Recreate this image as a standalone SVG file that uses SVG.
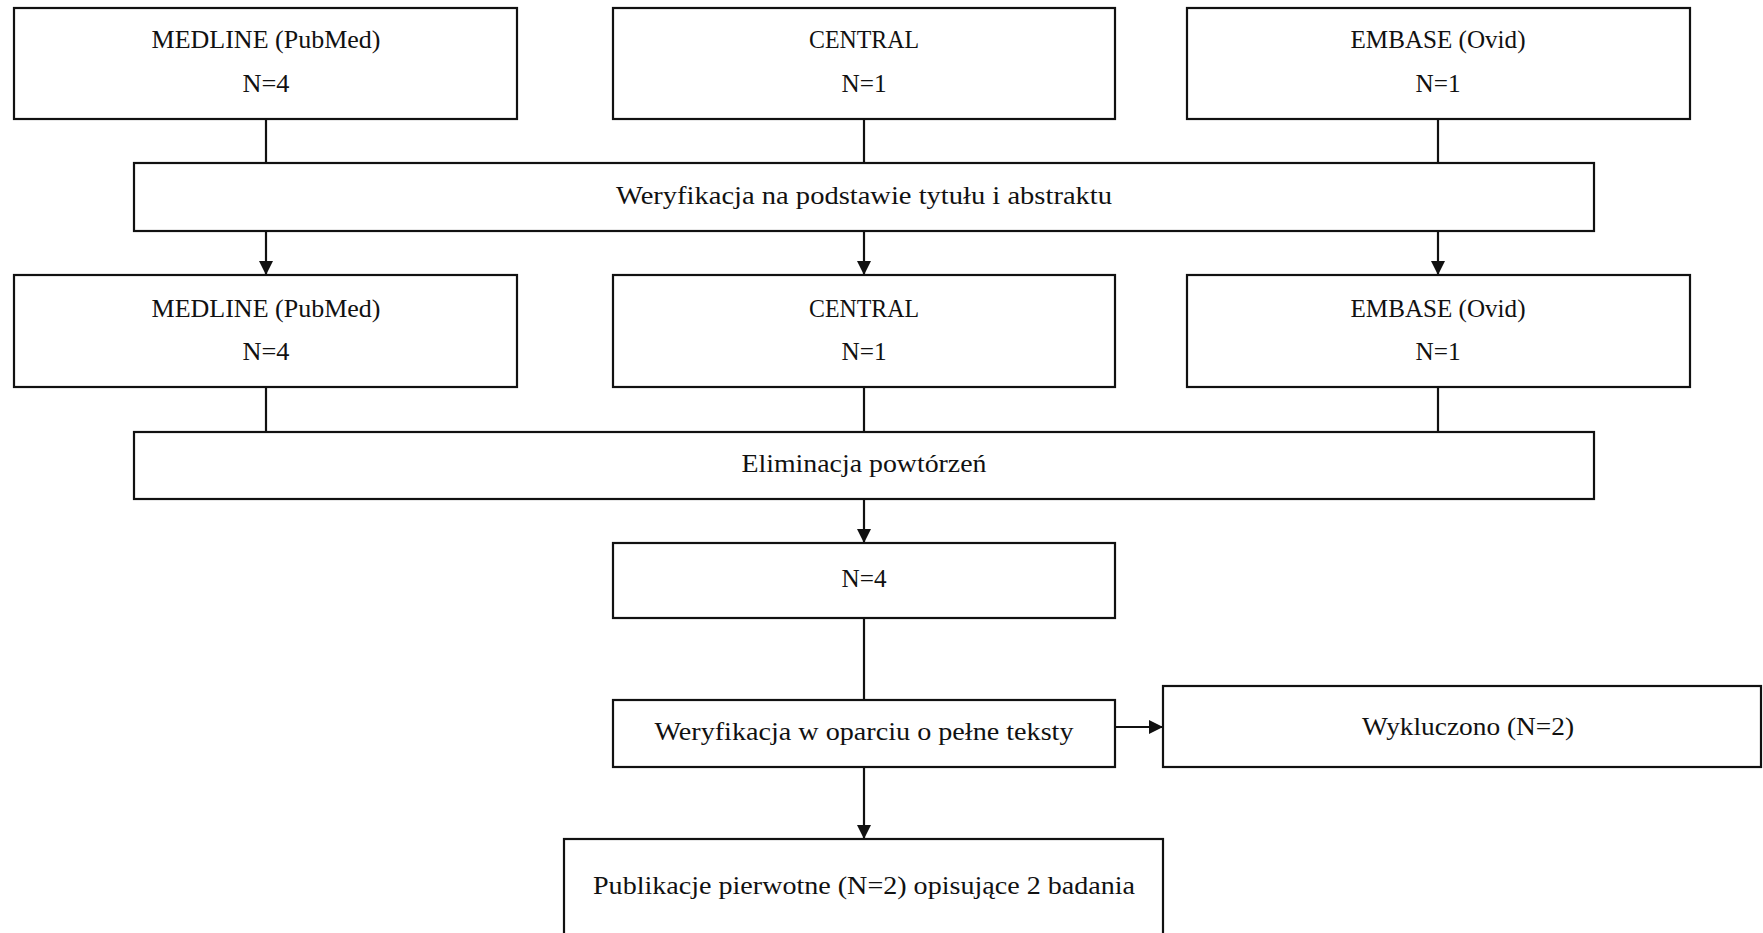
<svg xmlns="http://www.w3.org/2000/svg" width="1763" height="933" viewBox="0 0 1763 933">
<style>
.box{fill:#fff;stroke:#111;stroke-width:2.2}
.t{font-family:"Liberation Serif","Times New Roman",serif;font-size:25px;fill:#111;text-anchor:middle}
.c{stroke:#111;stroke-width:2.2;fill:none}
</style>
<defs>
<marker id="ah" markerUnits="userSpaceOnUse" markerWidth="16" markerHeight="16" viewBox="0 0 16 16" refX="15" refY="8" orient="auto">
<path d="M1,1 L15,8 L1,15 Z" fill="#111"/>
</marker>
</defs>
<rect width="1763" height="933" fill="#fff"/>
<g id="connectors">
<line class="c" x1="266" y1="119" x2="266" y2="163"/>
<line class="c" x1="864" y1="119" x2="864" y2="163"/>
<line class="c" x1="1438" y1="119" x2="1438" y2="163"/>
<line class="c" x1="266" y1="231" x2="266" y2="275" marker-end="url(#ah)"/>
<line class="c" x1="864" y1="231" x2="864" y2="275" marker-end="url(#ah)"/>
<line class="c" x1="1438" y1="231" x2="1438" y2="275" marker-end="url(#ah)"/>
<line class="c" x1="266" y1="387" x2="266" y2="432"/>
<line class="c" x1="864" y1="387" x2="864" y2="432"/>
<line class="c" x1="1438" y1="387" x2="1438" y2="432"/>
<line class="c" x1="864" y1="499" x2="864" y2="543" marker-end="url(#ah)"/>
<line class="c" x1="864" y1="618" x2="864" y2="700"/>
<line class="c" x1="864" y1="767" x2="864" y2="839" marker-end="url(#ah)"/>
<line class="c" x1="1115" y1="727" x2="1163" y2="727" marker-end="url(#ah)"/>
</g>
<g id="medline1"><rect class="box" x="14" y="8" width="503" height="111"/>
<text class="t" x="266" y="48" textLength="229" lengthAdjust="spacingAndGlyphs">MEDLINE (PubMed)</text>
<text class="t" x="266" y="92" textLength="47" lengthAdjust="spacingAndGlyphs">N=4</text></g>
<g id="central1"><rect class="box" x="613" y="8" width="502" height="111"/>
<text class="t" x="864" y="48" textLength="110" lengthAdjust="spacingAndGlyphs">CENTRAL</text>
<text class="t" x="864" y="92" textLength="45" lengthAdjust="spacingAndGlyphs">N=1</text></g>
<g id="embase1"><rect class="box" x="1187" y="8" width="503" height="111"/>
<text class="t" x="1438" y="48" textLength="175" lengthAdjust="spacingAndGlyphs">EMBASE (Ovid)</text>
<text class="t" x="1438" y="92" textLength="45" lengthAdjust="spacingAndGlyphs">N=1</text></g>
<g id="screen1"><rect class="box" x="134" y="163" width="1460" height="68"/>
<text class="t" x="864" y="204" textLength="496" lengthAdjust="spacingAndGlyphs">Weryfikacja na podstawie tytułu i abstraktu</text></g>
<g id="medline2"><rect class="box" x="14" y="275" width="503" height="112"/>
<text class="t" x="266" y="317" textLength="229" lengthAdjust="spacingAndGlyphs">MEDLINE (PubMed)</text>
<text class="t" x="266" y="360" textLength="47" lengthAdjust="spacingAndGlyphs">N=4</text></g>
<g id="central2"><rect class="box" x="613" y="275" width="502" height="112"/>
<text class="t" x="864" y="317" textLength="110" lengthAdjust="spacingAndGlyphs">CENTRAL</text>
<text class="t" x="864" y="360" textLength="45" lengthAdjust="spacingAndGlyphs">N=1</text></g>
<g id="embase2"><rect class="box" x="1187" y="275" width="503" height="112"/>
<text class="t" x="1438" y="317" textLength="175" lengthAdjust="spacingAndGlyphs">EMBASE (Ovid)</text>
<text class="t" x="1438" y="360" textLength="45" lengthAdjust="spacingAndGlyphs">N=1</text></g>
<g id="dedup"><rect class="box" x="134" y="432" width="1460" height="67"/>
<text class="t" x="864" y="472" textLength="245" lengthAdjust="spacingAndGlyphs">Eliminacja powtórzeń</text></g>
<g id="n4"><rect class="box" x="613" y="543" width="502" height="75"/>
<text class="t" x="864" y="587" textLength="45" lengthAdjust="spacingAndGlyphs">N=4</text></g>
<g id="fulltext"><rect class="box" x="613" y="700" width="502" height="67"/>
<text class="t" x="864" y="740" textLength="419" lengthAdjust="spacingAndGlyphs">Weryfikacja w oparciu o pełne teksty</text></g>
<g id="excluded"><rect class="box" x="1163" y="686" width="598" height="81"/>
<text class="t" x="1468" y="735" textLength="212" lengthAdjust="spacingAndGlyphs">Wykluczono (N=2)</text></g>
<g id="final"><rect class="box" x="564" y="839" width="599" height="110"/>
<text class="t" x="864" y="894" textLength="542" lengthAdjust="spacingAndGlyphs">Publikacje pierwotne (N=2) opisujące 2 badania</text></g>
</svg>
